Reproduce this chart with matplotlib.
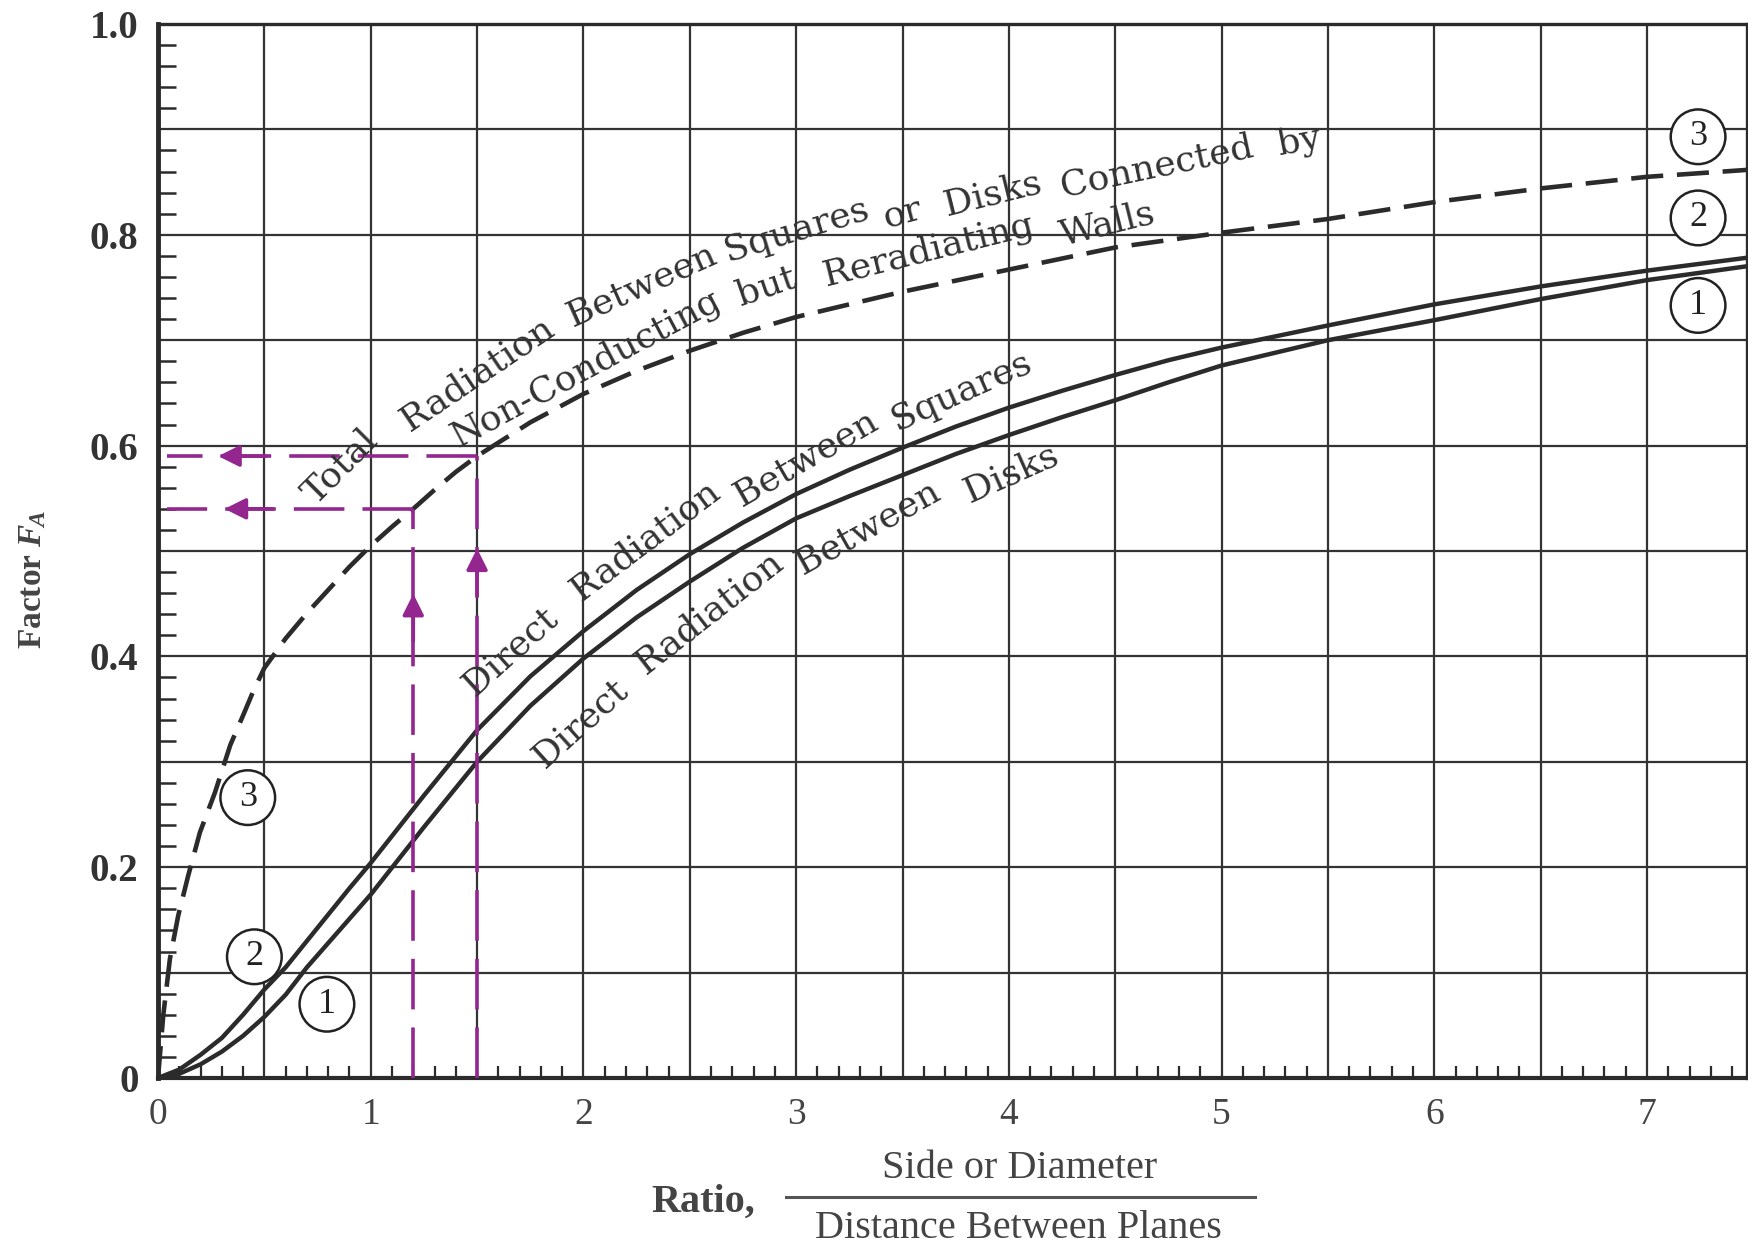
import numpy as np
import matplotlib.pyplot as plt
from matplotlib.lines import Line2D
from matplotlib.ticker import MultipleLocator

# Curve 2: direct radiation between squares
ratio_sq = [0, 0.1, 0.2, 0.3, 0.4, 0.5, 0.6, 0.7, 0.8, 0.9, 1.0, 1.25, 1.5, 1.75,
            2.0, 2.25, 2.5, 2.75, 3.0, 3.25, 3.5, 3.75, 4.0, 4.25, 4.5, 4.75,
            5.0, 5.5, 6.0, 6.5, 7.0, 7.5]
factor_sq = [0, 0.008, 0.022, 0.038, 0.060, 0.084, 0.105, 0.130, 0.155, 0.180,
             0.204, 0.268, 0.330, 0.381, 0.424, 0.463, 0.497, 0.527, 0.554,
             0.577, 0.598, 0.618, 0.636, 0.652, 0.667, 0.681, 0.693, 0.714,
             0.734, 0.751, 0.766, 0.779]

# Curve 1: direct radiation between disks
ratio_disk = ratio_sq
factor_disk = [0, 0.004, 0.013, 0.025, 0.040, 0.058, 0.079, 0.105, 0.128, 0.151,
               0.174, 0.238, 0.300, 0.353, 0.398, 0.437, 0.471, 0.503, 0.531,
               0.552, 0.572, 0.592, 0.610, 0.627, 0.643, 0.660, 0.676, 0.700,
               0.719, 0.739, 0.757, 0.771]

# Curve 3: total radiation, reradiating walls
ratio_tot = [0, 0.025, 0.056, 0.095, 0.142, 0.197, 0.268, 0.34, 0.4, 0.45, 0.5,
             0.6, 0.7, 0.8, 0.9, 1.0, 1.1, 1.2, 1.3, 1.4, 1.5, 1.75, 2.0, 2.25,
             2.5, 2.75, 3.0, 3.5, 4.0, 4.5, 5.0, 5.5, 6.0, 6.5, 7.0, 7.5]
factor_tot = [0, 0.06, 0.113, 0.154, 0.192, 0.233, 0.271, 0.316, 0.344, 0.368,
              0.389, 0.417, 0.441, 0.463, 0.485, 0.505, 0.523, 0.540, 0.558,
              0.575, 0.590, 0.622, 0.649, 0.671, 0.690, 0.707, 0.722, 0.746,
              0.767, 0.788, 0.802, 0.815, 0.831, 0.844, 0.855, 0.862]

# example read-offs (purple)
read_x = [1.2, 1.5]
read_f = [0.54, 0.59]
up_arrow_f = [0.462, 0.505]
left_arrow_x = [0.30, 0.27]

xtick_vals = np.arange(0, 7.01, 0.5)
xtick_text = ['0', '', '1', '', '2', '', '3', '', '4', '', '5', '', '6', '', '7']
ytick_vals = np.arange(0, 1.001, 0.1)
ytick_text = ['0', '', '0.2', '', '0.4', '', '0.6', '', '0.8', '', '1.0']

# labels along the curves: word, x, F, rotation
words_top = [('Total', 0.858, 0.580, 45), ('Radiation', 1.502, 0.668, 34),
             ('Between', 2.272, 0.752, 24), ('Squares', 3.000, 0.805, 17),
             ('or', 3.50, 0.820, 15), ('Disks', 3.925, 0.839, 14),
             ('Connected', 4.695, 0.865, 12), ('by', 5.366, 0.889, 11)]
words_walls = [('Non-Conducting', 2.010, 0.673, 28), ('but', 2.860, 0.751, 19),
               ('Reradiating', 3.620, 0.785, 14), ('Walls', 4.465, 0.810, 14)]
words_sq = [('Direct', 1.656, 0.405, 42), ('Radiation', 2.289, 0.510, 37),
            ('Between', 3.044, 0.588, 30), ('Squares', 3.778, 0.652, 24)]
words_disk = [('Direct', 1.984, 0.337, 42), ('Radiation', 2.590, 0.442, 38),
              ('Between', 3.337, 0.523, 29), ('Disks', 4.010, 0.574, 24)]

circle_nums = [('3', 0.422, 0.266), ('2', 0.453, 0.115), ('1', 0.794, 0.070),
               ('3', 7.24, 0.893), ('2', 7.24, 0.816), ('1', 7.24, 0.733)]

serif = 'Liberation Serif'
ink = '#2b2b2b'
purple = '#93278f'

plt.rcParams['mathtext.fontset'] = 'custom'
plt.rcParams['mathtext.it'] = 'Liberation Serif:italic:bold'
plt.rcParams['mathtext.rm'] = 'Liberation Serif:bold'

W, H = 1749, 1257
fig = plt.figure(figsize=(W / 100, H / 100), dpi=100)
ax = fig.add_axes([158 / W, 1 - 1078 / H, (1747 - 158) / W, (1078 - 24) / H])
ax.set_xlim(0, 7.47)
ax.set_ylim(0, 1.0)

ax.set_xticks(xtick_vals)
ax.set_xticklabels(xtick_text, fontsize=27, family=serif, color='#444')
ax.set_yticks(ytick_vals)
ax.set_yticklabels(ytick_text, fontsize=28, family=serif, fontweight='bold', color='#333')
ax.tick_params(which='major', length=0, pad=14)
ax.xaxis.set_minor_locator(MultipleLocator(0.1))
ax.yaxis.set_minor_locator(MultipleLocator(0.02))
ax.tick_params(which='minor', direction='in', color=ink)
ax.tick_params(axis='x', which='minor', length=9, width=1.6)
ax.tick_params(axis='y', which='minor', length=13, width=1.8)
ax.grid(True, which='major', color='#333333', lw=1.6)
for side in ['top', 'right']:
    ax.spines[side].set_linewidth(2.4)
    ax.spines[side].set_color(ink)
ax.spines['left'].set_linewidth(3.5)
ax.spines['bottom'].set_linewidth(3.0)
ax.spines['left'].set_color(ink)
ax.spines['bottom'].set_color(ink)

ax.plot(ratio_sq, factor_sq, color=ink, lw=3.2, solid_capstyle='round',
        solid_joinstyle='round', zorder=3)
ax.plot(ratio_disk, factor_disk, color=ink, lw=3.2, solid_capstyle='round',
        solid_joinstyle='round', zorder=3)
ax.plot(ratio_tot, factor_tot, color=ink, lw=3.3, dashes=(7, 3), zorder=3)

for xv, fv, fa, xa in zip(read_x, read_f, up_arrow_f, left_arrow_x):
    ax.plot([xv, xv], [0, fv], color=purple, lw=2.6, dashes=(14, 5), zorder=4)
    ax.plot([xv, 0.04], [fv, fv], color=purple, lw=2.6, dashes=(14, 5), zorder=4)
    ax.annotate('', xy=(xv, fa), xytext=(xv, fa - 0.05),
                arrowprops=dict(arrowstyle='-|>', color=purple, lw=2.6,
                                mutation_scale=32), zorder=5)
    ax.annotate('', xy=(xa, fv), xytext=(xa + 0.25, fv),
                arrowprops=dict(arrowstyle='-|>', color=purple, lw=2.6,
                                mutation_scale=32), zorder=5)

for group in [words_top, words_walls, words_sq, words_disk]:
    for w, xw, fw, rot in group:
        ax.text(xw, fw, w, fontsize=26, family='DejaVu Serif', color='#333',
                rotation=rot, rotation_mode='anchor', ha='center', va='center',
                zorder=6)

for num, xc, fc in circle_nums:
    ax.text(xc, fc, num, fontsize=26, family=serif, color='#222', ha='center',
            va='center', zorder=7,
            bbox=dict(boxstyle='circle,pad=0.3', fc='white', ec='#222', lw=1.8))

fig.text(33 / W, 1 - 580 / H, r'Factor $F_{\!A}$', rotation=90, fontsize=24,
         family=serif, fontweight='bold', color='#444', ha='center', va='center')

fig.text(703 / W, 1 - 1202 / H, 'Ratio,', fontsize=29, family=serif,
         fontweight='bold', color='#444', ha='center', va='center')
fig.text(1020 / W, 1 - 1168 / H, 'Side or Diameter', fontsize=29, family=serif,
         color='#444', ha='center', va='center')
fig.add_artist(Line2D([786 / W, 1255 / W], [1 - 1197 / H] * 2, color='#555', lw=2.2))
fig.text(1018 / W, 1 - 1228 / H, 'Distance Between Planes', fontsize=29, family=serif,
         color='#444', ha='center', va='center')

fig.savefig('out.png', dpi=100, facecolor='white')
